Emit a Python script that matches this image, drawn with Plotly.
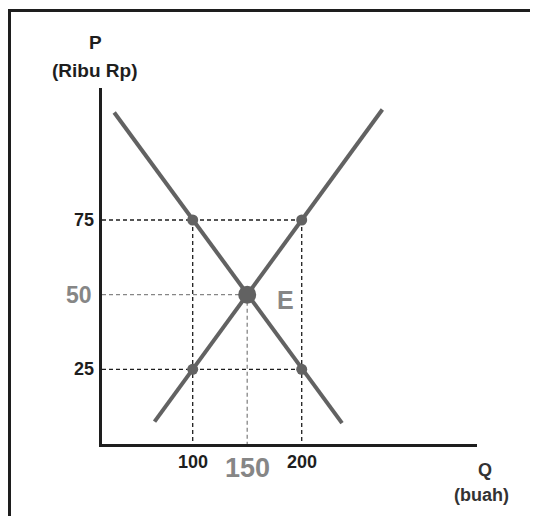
import plotly.graph_objects as go

# Data
demand_q = [28, 100, 150, 200, 237]
demand_p = [111, 75, 50, 25, 7]
supply_q = [65, 100, 150, 200, 274]
supply_p = [7.5, 25, 50, 75, 112]
point_q = [100, 200, 100, 200]
point_p = [75, 75, 25, 25]
eq_q = [150]
eq_p = [50]
p_ticks = [75, 50, 25]
q_ticks = [100, 150, 200]

XMIN, XMAX = 16.8, 360.8
YMIN, YMAX = 0, 119.2
LINE = "#626262"
DARK = "#1e1e1e"
GREY = "#868686"
FONT = "Liberation Sans"

# figure geometry (page is offset by the 8px body margin)
W, H = 530, 508
ML, MR, MT, MB = 94, 61, 80, 72
PW, PH = W - ML - MR, H - MT - MB

fig = go.Figure()


def guide(xs, ys, color):
    fig.add_trace(go.Scatter(x=xs, y=ys, mode="lines",
                             line=dict(color=color, width=1.3, dash="4px,3px"),
                             hoverinfo="skip", showlegend=False))


guide([XMIN, point_q[1]], [point_p[0], point_p[1]], DARK)
guide([XMIN, point_q[3]], [point_p[2], point_p[3]], DARK)
guide([point_q[0], point_q[2]], [point_p[0], YMIN], DARK)
guide([point_q[1], point_q[3]], [point_p[1], YMIN], DARK)
guide([XMIN, eq_q[0]], [eq_p[0], eq_p[0]], GREY)
guide([eq_q[0], eq_q[0]], [eq_p[0], YMIN], GREY)

fig.add_trace(go.Scatter(x=demand_q, y=demand_p, mode="lines",
                         line=dict(color=LINE, width=4), showlegend=False))
fig.add_trace(go.Scatter(x=supply_q, y=supply_p, mode="lines",
                         line=dict(color=LINE, width=4), showlegend=False))
fig.add_trace(go.Scatter(x=point_q, y=point_p, mode="markers",
                         marker=dict(color=LINE, size=11), showlegend=False))
fig.add_trace(go.Scatter(x=eq_q, y=eq_p, mode="markers",
                         marker=dict(color=LINE, size=18), showlegend=False))

ann = []
for p in p_ticks:
    big = p == 50
    ann.append(dict(x=XMIN, y=p, xref="x", yref="y", text=f"<b>{p}</b>",
                    showarrow=False, xanchor="right", yanchor="middle",
                    xshift=-6 if not big else -8,
                    font=dict(family=FONT, size=23 if big else 18,
                              color=GREY if big else DARK)))
for q in q_ticks:
    big = q == 150
    ann.append(dict(x=q, y=YMIN, xref="x", yref="y", text=f"<b>{q}</b>",
                    showarrow=False, xanchor="center", yanchor="middle",
                    yshift=-18 if not big else -24,
                    font=dict(family=FONT, size=27 if big else 18,
                              color=GREY if big else DARK)))
ann.append(dict(x=eq_q[0], y=eq_p[0], xref="x", yref="y", text="<b>E</b>",
                showarrow=False, xanchor="left", yanchor="middle",
                xshift=28, yshift=-5,
                font=dict(family=FONT, size=25, color=GREY)))
ann.append(dict(x=0, y=1, xref="paper", yref="paper", text="<b>P</b>",
                showarrow=False, xanchor="center", yanchor="middle",
                xshift=-7, yshift=46,
                font=dict(family=FONT, size=19, color=DARK)))
ann.append(dict(x=0, y=1, xref="paper", yref="paper", text="<b>(Ribu Rp)</b>",
                showarrow=False, xanchor="center", yanchor="middle",
                xshift=-8, yshift=18,
                font=dict(family=FONT, size=19, color=DARK)))
ann.append(dict(x=1, y=0, xref="paper", yref="paper", text="<b>Q</b>",
                showarrow=False, xanchor="center", yanchor="middle",
                xshift=8, yshift=-26,
                font=dict(family=FONT, size=18, color="#333333")))
ann.append(dict(x=1, y=0, xref="paper", yref="paper", text="<b>(buah)</b>",
                showarrow=False, xanchor="center", yanchor="middle",
                xshift=4, yshift=-51,
                font=dict(family=FONT, size=18, color="#333333")))

top_y = (PH + MT - 2.5) / PH
left_x = (1.5 - ML) / PW
shapes = [
    dict(type="line", xref="paper", yref="paper", x0=left_x, x1=1.5,
         y0=top_y, y1=top_y, line=dict(color=DARK, width=3)),
    dict(type="line", xref="paper", yref="paper", x0=left_x, x1=left_x,
         y0=top_y + 0.004, y1=-0.5, line=dict(color=DARK, width=3)),
]

fig.update_layout(
    width=W, height=H,
    margin=dict(l=ML, r=MR, t=MT, b=MB),
    paper_bgcolor="white", plot_bgcolor="white",
    xaxis=dict(range=[XMIN, XMAX], showgrid=False, zeroline=False,
               showticklabels=False, ticks="", showline=True,
               linecolor=DARK, linewidth=3),
    yaxis=dict(range=[YMIN, YMAX], showgrid=False, zeroline=False,
               showticklabels=False, ticks="", showline=True,
               linecolor=DARK, linewidth=3),
    annotations=ann, shapes=shapes, showlegend=False,
)

fig.write_html("out.html")
